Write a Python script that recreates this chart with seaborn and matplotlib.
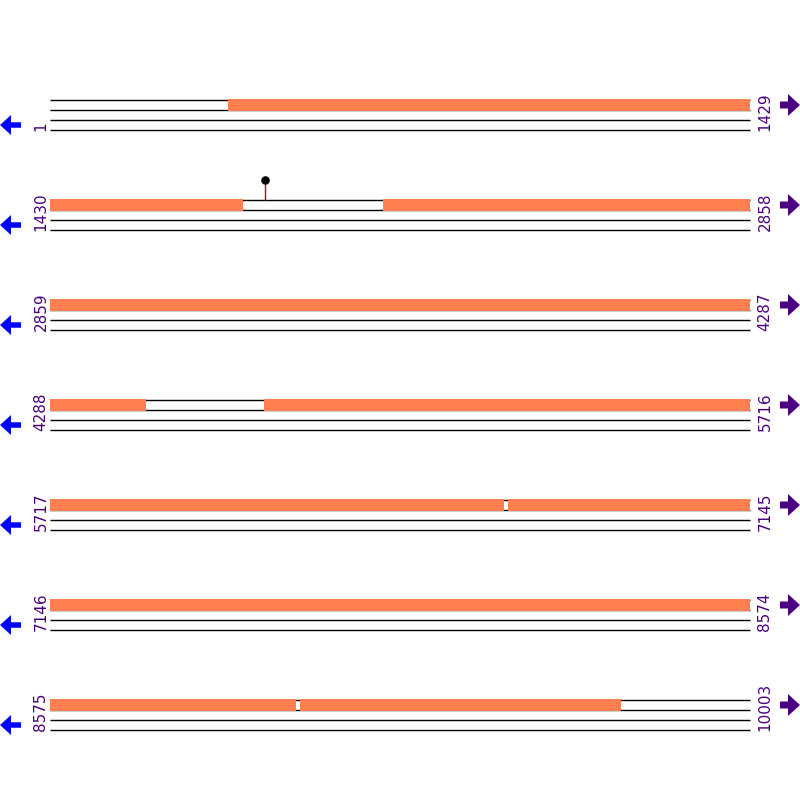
import matplotlib.pyplot as plt
from matplotlib.patches import FancyArrow
import pandas as pd
import seaborn as sns

# sequence layout
seq_start = 1
seq_end = 10003
row_size = 1429

# orange features (1-based inclusive positions)
feature_starts = [364, 2110, 4725, 6652, 9085]
feature_ends = [1823, 4483, 6643, 9076, 9740]

# lollipop site
site_positions = [1869]

sns.set_theme(style="white")
plt.rcParams['font.family'] = ['DejaVu Sans']

fig = plt.figure(figsize=(8, 8), dpi=100)
ax = fig.add_axes([0, 0, 1, 1])

# pixel layout of each row
left, right = 50, 750
row_top0, row_gap = 100, 100
n_rows = (seq_end - seq_start) // row_size + 1
row_starts = [seq_start + i * row_size for i in range(n_rows)]
row_ends = [min(s + row_size - 1, seq_end) for s in row_starts]
scale = (right - left) / row_size


def to_x(pos, row):
    # pos is a boundary coordinate (0-based edge)
    return left + (pos - (row_starts[row] - 1)) * scale


purple = "#4B0082"
coral = "#FF7F50"

for r in range(n_rows):
    top = row_top0 + r * row_gap
    x_end = to_x(row_ends[r], r)
    for dy in (0, 10, 20, 30):
        ax.hlines(top + dy, left, x_end, color="black", lw=1.0, zorder=2)

    # features clipped to row
    for fs, fe in zip(feature_starts, feature_ends):
        a = max(fs, row_starts[r])
        b = min(fe, row_ends[r])
        if a > b:
            continue
        x0 = to_x(a - 1, r)
        x1 = to_x(b, r)
        ax.broken_barh([(x0, x1 - x0)], (top - 0.6, 11.2),
                       facecolors=coral, edgecolor="none", zorder=3)

    # position labels
    ax.text(41, top + 31, str(row_starts[r]), rotation=90, rotation_mode="anchor",
            ha="left", va="center", color=purple, fontsize=11)
    ax.text(765, top + 31, str(row_ends[r]), rotation=90, rotation_mode="anchor",
            ha="left", va="center", color=purple, fontsize=11)

    # strand arrows
    ax.add_patch(FancyArrow(21, top + 25, -21, 0, width=5.5, head_width=20,
                            head_length=11, length_includes_head=True,
                            color="blue", lw=0, zorder=4))
    ax.add_patch(FancyArrow(780, top + 5, 20, 0, width=7, head_width=22,
                            head_length=12, length_includes_head=True,
                            color=purple, lw=0, zorder=4))

# lollipop sites
site_rows = [(p - seq_start) // row_size for p in site_positions]
site_df = pd.DataFrame({
    "x": [to_x(p - 0.5, r) for p, r in zip(site_positions, site_rows)],
    "y": [row_top0 + r * row_gap - 20 for r in site_rows],
})
for _, s in site_df.iterrows():
    ax.vlines(s["x"], s["y"] + 3, s["y"] + 20, color="#cc0000", lw=1.0, zorder=3)
sns.scatterplot(data=site_df, x="x", y="y", ax=ax, color="black", s=38,
                linewidth=0, zorder=5, legend=False)
ax.set_xlim(0, 800)
ax.set_ylim(800, 0)
ax.axis('off')

fig.savefig("out.png", dpi=100)
